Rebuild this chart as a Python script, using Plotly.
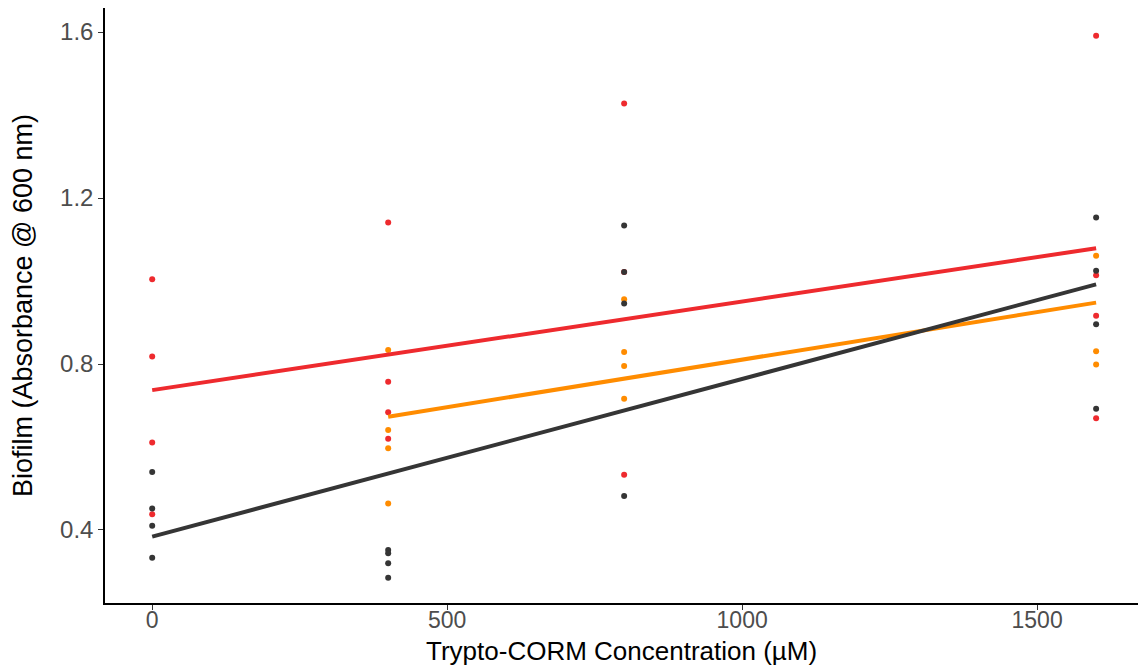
import plotly.graph_objects as go

# --- data ---
red_x = [0, 0, 0, 0, 400, 400, 400, 400, 800, 800, 800, 1600, 1600, 1600, 1600]
red_y = [1.004, 0.818, 0.611, 0.438, 1.141, 0.757, 0.684, 0.620, 1.428, 1.022, 0.533, 1.591, 1.014, 0.916, 0.669]

orange_x = [400, 400, 400, 400, 800, 800, 800, 800, 1600, 1600, 1600]
orange_y = [0.834, 0.641, 0.597, 0.464, 0.956, 0.829, 0.795, 0.716, 1.061, 0.831, 0.799]

black_x = [0, 0, 0, 0, 400, 400, 400, 400, 800, 800, 800, 800, 1600, 1600, 1600, 1600]
black_y = [0.540, 0.452, 0.410, 0.333, 0.352, 0.344, 0.320, 0.285, 1.134, 1.022, 0.946, 0.482, 1.153, 1.025, 0.896, 0.692]

# fitted trend lines (endpoints)
red_fit_x = [0, 1600]
red_fit_y = [0.737, 1.079]
orange_fit_x = [400, 1600]
orange_fit_y = [0.673, 0.948]
black_fit_x = [0, 1600]
black_fit_y = [0.384, 0.992]

x_ticks = [0, 500, 1000, 1500]
y_ticks = [0.4, 0.8, 1.2, 1.6]

RED = "#EE2A2E"
ORANGE = "#FF8C00"
BLACK = "#353535"

fig = go.Figure()
for xs, ys, c in [(red_x, red_y, RED), (orange_x, orange_y, ORANGE), (black_x, black_y, BLACK)]:
    fig.add_trace(go.Scatter(x=xs, y=ys, mode="markers",
                             marker=dict(color=c, size=6, line=dict(width=0)),
                             showlegend=False))
for xs, ys, c in [(red_fit_x, red_fit_y, RED), (orange_fit_x, orange_fit_y, ORANGE), (black_fit_x, black_fit_y, BLACK)]:
    fig.add_trace(go.Scatter(x=xs, y=ys, mode="lines",
                             line=dict(color=c, width=4),
                             showlegend=False))

fig.update_layout(
    width=1140, height=668,
    margin=dict(l=105, r=2, t=8, b=65),
    plot_bgcolor="white", paper_bgcolor="white",
    font=dict(family="Liberation Sans, Arial, sans-serif"),
    annotations=[dict(
        text="Trypto-CORM Concentration (µM)", xref="paper", yref="paper",
        x=0.5, y=-0.081, xanchor="center", yanchor="middle", showarrow=False,
        font=dict(size=26, color="black"),
    )],
)
fig.update_xaxes(
    range=[-80, 1671], tickvals=x_ticks, ticktext=[str(v) for v in x_ticks],
    showgrid=False, zeroline=False,
    showline=True, linecolor="black", linewidth=1.5,
    ticks="outside", ticklen=5, tickcolor="#333333", tickwidth=1,
    tickfont=dict(size=23, color="#4D4D4D"),
    ticklabelstandoff=-9,
)
fig.update_yaxes(
    range=[0.224, 1.658], tickvals=y_ticks, ticktext=["0.4", "0.8", "1.2", "1.6"],
    showgrid=False, zeroline=False,
    showline=True, linecolor="black", linewidth=1.5,
    ticks="outside", ticklen=5, tickcolor="#333333", tickwidth=1,
    tickfont=dict(size=24, color="#4D4D4D"),
    title=dict(text="Biofilm (Absorbance @ 600 nm)", font=dict(size=27, color="black"), standoff=20),
)

fig.write_html("out.html")
